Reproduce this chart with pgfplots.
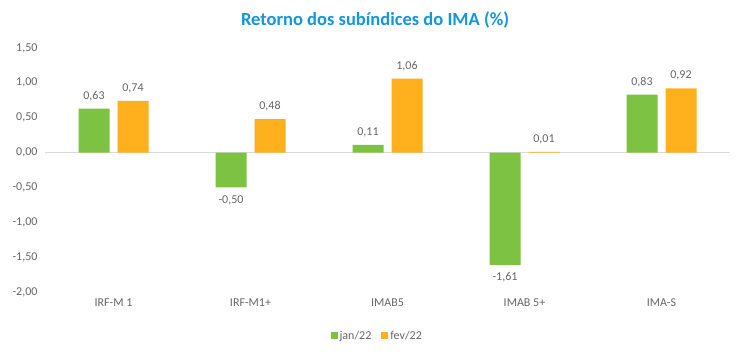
\documentclass[border=0pt]{standalone}
\usepackage{pgfplots}
\pgfplotsset{compat=1.18}
\usepackage{fontspec}
\setmainfont{Carlito}
\definecolor{cgreen}{HTML}{7DC242}
\definecolor{corange}{HTML}{FFB01C}
\definecolor{ctitle}{HTML}{1496DC}
\definecolor{ctext}{HTML}{666666}
\definecolor{czero}{HTML}{D9D9D9}
\begin{document}
\begin{tikzpicture}[x=1pt,y=1pt]
\path[fill=white,use as bounding box] (0,0) rectangle (750,356);
\node[font=\fontsize{18.5}{22}\selectfont\bfseries, text=ctitle] at (375,336) {Retorno dos subíndices do IMA (\%)};
\begin{axis}[
  at={(45pt,64pt)}, anchor=south west,
  width=685pt, height=244pt, scale only axis,
  xmin=-0.5, xmax=4.5, ymin=-2, ymax=1.5,
  axis line style={draw=none},
  major tick length=0pt,
  xtick={0,1,2,3,4},
  xticklabels={IRF-M 1, IRF-M1+, IMAB5, IMAB 5+, IMA-S},
  ytick={-2,-1.5,-1,-0.5,0,0.5,1,1.5},
  /pgf/number format/assume math mode=true,
  y tick label style={/pgf/number format/use comma, /pgf/number format/fixed, /pgf/number format/fixed zerofill, /pgf/number format/precision=2, xshift=-4pt},
  ticklabel style={font=\fontsize{12}{14}\selectfont, text=ctext},
  xticklabel style={yshift=-3pt},
  ybar, bar width=31pt,
  nodes near coords,
  every node near coord/.append style={font=\fontsize{12}{14}\selectfont, text=ctext, inner ysep=7.8pt, /pgf/number format/use comma, /pgf/number format/fixed, /pgf/number format/fixed zerofill, /pgf/number format/precision=2, /pgf/number format/assume math mode=true},
  legend style={at={(0.485,-0.18)}, anchor=center, draw=none, legend columns=2, font=\fontsize{12}{14}\selectfont, text=ctext, /tikz/every even column/.append style={column sep=8pt}},
  legend image code/.code={\fill[#1] (0pt,-3.5pt) rectangle (7pt,3.5pt);},
  clip=false,
]
\draw[czero, line width=0.8pt] (axis cs:-0.5,0) -- (axis cs:4.5,0);
\addplot[fill=cgreen, draw=none, bar shift=-19.5pt] coordinates {(0,0.63) (1,-0.50) (2,0.11) (3,-1.61) (4,0.83)};
\addplot[fill=corange, draw=none, bar shift=19.5pt] coordinates {(0,0.74) (1,0.48) (2,1.06) (3,0.01) (4,0.92)};
\legend{jan/22, fev/22}
\end{axis}
\end{tikzpicture}
\end{document}
